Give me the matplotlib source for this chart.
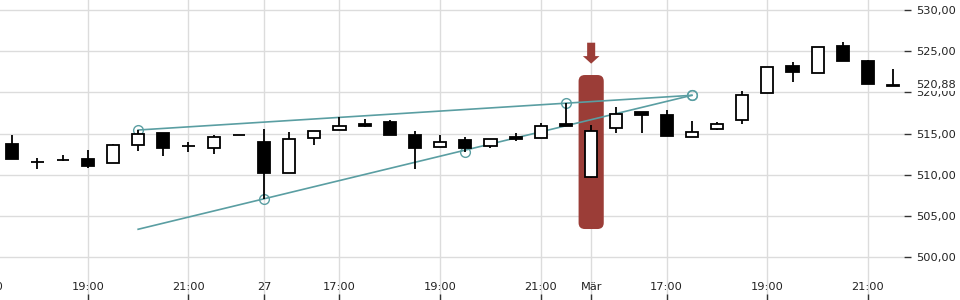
import numpy as np
import matplotlib
matplotlib.use('Agg')
import matplotlib.pyplot as plt
from matplotlib.patches import Rectangle, FancyBboxPatch, Polygon

# 30-minute candles
opens  = [513.74, 511.52, 511.77, 511.92, 511.40, 513.59, 515.04, 513.50, 513.22, 514.84,
          513.95, 510.19, 514.44, 515.41, 516.17, 516.41, 514.84, 513.34, 514.19, 513.46,
          514.56, 514.44, 516.13, 509.78, 515.65, 517.63, 517.26, 514.56, 515.53, 516.62,
          519.89, 523.21, 522.39, 525.63, 523.81, 520.74]
highs  = [514.84, 512.01, 512.41, 513.02, 513.74, 515.44, 515.04, 513.99, 514.80, 514.84,
          515.53, 515.20, 515.28, 516.98, 516.74, 516.62, 515.28, 514.84, 514.56, 514.39,
          515.04, 516.29, 518.68, 516.09, 518.20, 517.63, 517.87, 516.53, 516.38, 520.17,
          523.05, 523.69, 525.48, 526.12, 523.93, 522.84]
lows   = [511.89, 510.67, 511.68, 510.87, 511.40, 512.93, 512.32, 512.81, 512.57, 514.84,
          507.03, 510.19, 513.66, 515.41, 515.84, 514.87, 510.75, 513.34, 512.81, 513.30,
          514.14, 514.44, 515.89, 509.66, 515.11, 515.11, 514.75, 514.56, 515.41, 516.21,
          519.89, 521.30, 522.39, 523.85, 520.98, 520.74]
closes = [511.89, 511.52, 511.77, 511.11, 513.59, 514.92, 513.30, 513.50, 514.56, 514.84,
          510.26, 514.31, 515.28, 515.89, 515.96, 514.87, 513.30, 513.95, 513.30, 514.39,
          514.35, 515.89, 515.96, 515.28, 517.35, 517.30, 514.75, 515.16, 516.13, 519.65,
          523.05, 522.51, 525.48, 523.85, 521.06, 520.88]

tick_pos = [-1, 3, 7, 10, 13, 17, 21, 23, 26, 30, 34]
tick_labels = ['17:00', '19:00', '21:00', '27', '17:00', '19:00', '21:00', 'Mär', '17:00', '19:00', '21:00']

# trend lines: x (bar index), y (price), and which points get a circle
trend_a_x = [5, 22, 27]
trend_a_y = [515.44, 518.68, 519.65]
trend_a_mark = [0, 1, 2]
trend_b_x = [5, 10, 18, 27]
trend_b_y = [503.40, 507.03, 512.81, 519.65]
trend_b_mark = [1, 2, 3]

highlight_bar = 23
highlight_lo, highlight_hi = 503.43, 522.11
arrow_top, arrow_tip = 526.03, 523.49
last_price = 520.88

teal = '#5a9ea2'
red = '#9b3d37'
grid_c = '#dcdcdc'
txt_c = '#222222'
fs = 8.2

fig = plt.figure(figsize=(9.6, 3.0), dpi=100)
ax = fig.add_axes([0, 0, 904 / 960, 1])

for s in ax.spines.values():
    s.set_visible(False)

# highlight box + arrow
bw = 1.0
hl = FancyBboxPatch((highlight_bar - bw / 2, highlight_lo), bw, highlight_hi - highlight_lo,
                    boxstyle='round,pad=0,rounding_size=0.25', mutation_aspect=3.0,
                    facecolor=red, edgecolor='none', zorder=1)
ax.add_patch(hl)
shaft_w, head_w = 0.16, 0.33
head_base = arrow_tip + (arrow_top - arrow_tip) * 0.36
arrow = Polygon([(highlight_bar - shaft_w, arrow_top), (highlight_bar + shaft_w, arrow_top),
                 (highlight_bar + shaft_w, head_base), (highlight_bar + head_w, head_base),
                 (highlight_bar, arrow_tip), (highlight_bar - head_w, head_base),
                 (highlight_bar - shaft_w, head_base)], closed=True,
                facecolor=red, edgecolor='none', zorder=1)
ax.add_patch(arrow)

# trend lines
for xs, ys, marks in [(trend_a_x, trend_a_y, trend_a_mark), (trend_b_x, trend_b_y, trend_b_mark)]:
    ax.plot([xs[0], xs[-1]], [ys[0], ys[-1]], color=teal, linewidth=1.2, zorder=2)
    ax.plot([xs[i] for i in marks], [ys[i] for i in marks], 'o', markersize=7,
            markerfacecolor='none', markeredgecolor=teal, markeredgewidth=1.0, zorder=2)

# candles
w = 0.48
for i, (o, h, l, c) in enumerate(zip(opens, highs, lows, closes)):
    top, bot = max(o, c), min(o, c)
    if h > top:
        ax.plot([i, i], [top, h], color='black', linewidth=1.3, zorder=3, solid_capstyle='butt')
    if l < bot:
        ax.plot([i, i], [l, bot], color='black', linewidth=1.3, zorder=3, solid_capstyle='butt')
    fc = 'black' if c < o else 'white'
    ax.add_patch(Rectangle((i - w / 2, bot), w, top - bot, facecolor=fc,
                           edgecolor='black', linewidth=1.3, zorder=4))

ax.set_yticks(np.arange(500, 531, 5))
ax.yaxis.set_major_formatter(matplotlib.ticker.FuncFormatter(lambda v, p: ('%.2f' % v).replace('.', ',')))
ax.yaxis.tick_right()
ax.tick_params(axis='y', direction='out', length=5, width=1, color='#333333', pad=4,
               labelsize=fs, labelcolor=txt_c)

ax.set_xticks(tick_pos)
ax.set_xticklabels(tick_labels)
ax.tick_params(axis='x', direction='in', length=4, width=1, color='#333333', pad=-13,
               labelsize=fs, labelcolor=txt_c)

# limits last, since set_xticks widens the view to include the -1 tick
ax.set_xlim(-0.489, 35.43)
ax.set_ylim(494.82, 531.21)

ax.grid(True, color=grid_c, linewidth=1)
ax.set_axisbelow(True)

# the first tick sits left of the view; matplotlib drops its label, so draw it by hand
for p, lab in zip(tick_pos, tick_labels):
    if p < ax.get_xlim()[0]:
        ax.annotate(lab, xy=(p, 0), xycoords=ax.get_xaxis_transform(), xytext=(0, 13),
                    textcoords='offset points', ha='center', va='top', fontsize=fs,
                    color=txt_c, annotation_clip=False)

# last price label on the axis
ax.annotate(('%.2f' % last_price).replace('.', ','), xy=(1.0, last_price),
            xycoords=ax.get_yaxis_transform(), xytext=(9, 0), textcoords='offset points',
            ha='left', va='center', fontsize=fs, color=txt_c, annotation_clip=False,
            bbox=dict(facecolor='white', edgecolor='none', pad=0.5), zorder=10)

fig.savefig('out.png', dpi=100)
